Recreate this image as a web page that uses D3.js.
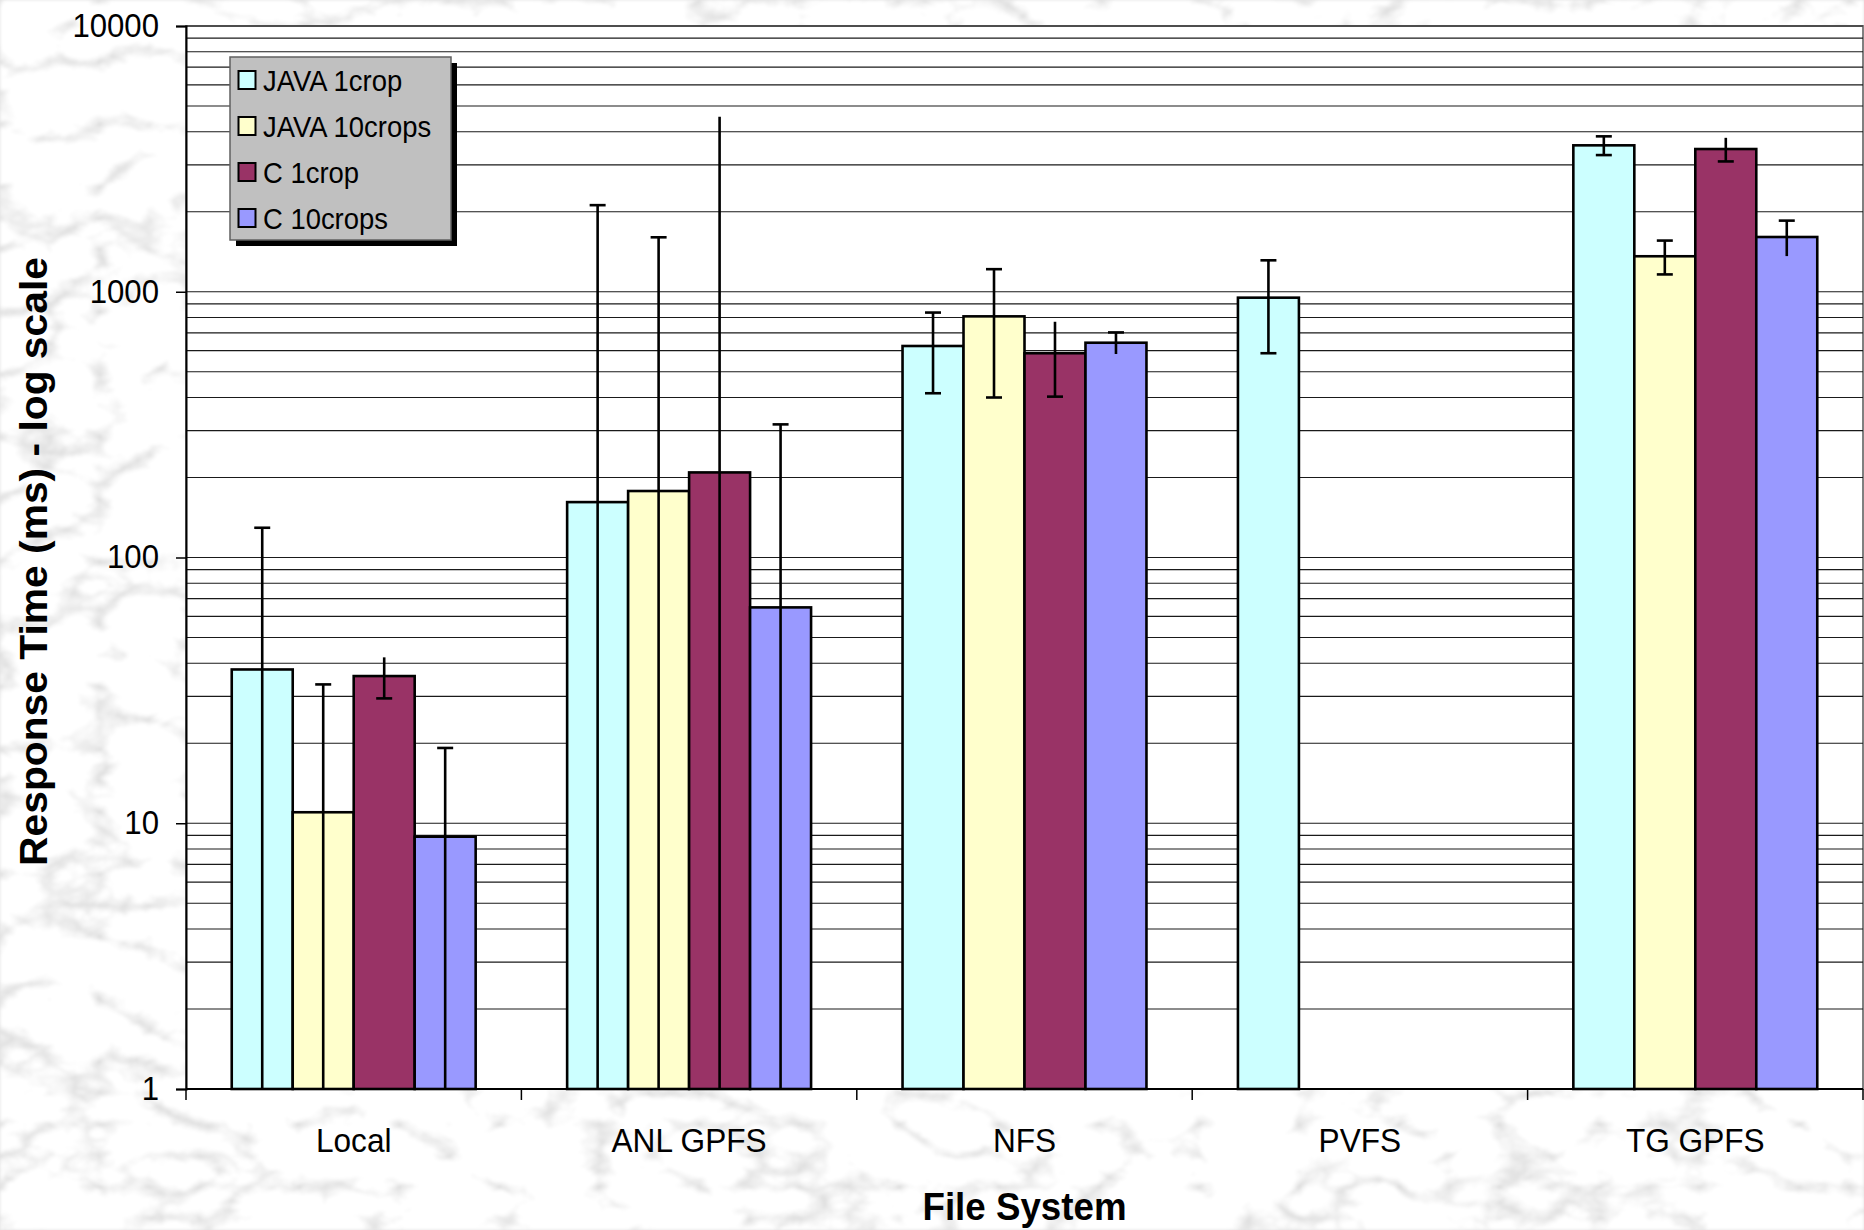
<!DOCTYPE html>
<html>
<head>
<meta charset="utf-8">
<script src="https://cdn.jsdelivr.net/npm/d3@7"></script>
<style>
  html, body { margin: 0; padding: 0; background: #e2e2e2; }
  svg { display: block; }
  text { font-family: "Liberation Sans", Arial, sans-serif; fill: #000; }
</style>
</head>
<body>
<svg id="chart" width="1864" height="1230"></svg>
<script>
// File systems on the x axis
const categories = ["Local", "ANL GPFS", "NFS", "PVFS", "TG GPFS"];
const seriesNames = ["JAVA 1crop", "JAVA 10crops", "C 1crop", "C 10crops"];

// Mean response time (ms) and the ± spread for each series
const java1crop      = [37.9, 161.6, 625, 950, 3556];
const java1cropErr   = [91.5, 1956, 210, 363, 288];
const java10crops    = [11.0, 177.9, 808, null, 1360];
const java10cropsErr = [22.3, 1425, 408, null, 198];
const c1crop         = [35.8, 209, 587, null, 3444];
const c1cropErr      = [6.3, 4350, 184, null, 351];
const c10crops       = [8.9, 64.9, 643, null, 1607];
const c10cropsErr    = [10.3, 252, 60, null, 245];

const yTickValues = [1, 10, 100, 1000, 10000];
const yTickLabels = ["1", "10", "100", "1000", "10000"];

const yTitle = "Response Time (ms) - log scale";
const xTitle = "File System";

// Appearance per series: fill colour and which error-bar ends get a cap
const seriesStyle = [
  { fill: "#CCFFFF", capTop: true,  capBottom: true },
  { fill: "#FFFFCC", capTop: true,  capBottom: true },
  { fill: "#993366", capTop: false, capBottom: true },
  { fill: "#9999FF", capTop: true,  capBottom: false }
];

const seriesValues = [java1crop, java10crops, c1crop, c10crops];
const seriesErrors = [java1cropErr, java10cropsErr, c1cropErr, c10cropsErr];

const W = 1864, H = 1230;
const plot = { left: 186, right: 1863, top: 26, bottom: 1089 };
const sx = 0.93; // horizontal squeeze of the lettering

const svg = d3.select("#chart");
const defs = svg.append("defs");

// Marble-like backdrop: soft grey veins on a pale ground
const f = defs.append("filter").attr("id", "marble")
  .attr("x", 0).attr("y", 0).attr("width", W).attr("height", H)
  .attr("filterUnits", "userSpaceOnUse");
f.append("feTurbulence").attr("type", "turbulence")
  .attr("baseFrequency", "0.010 0.016").attr("numOctaves", 5).attr("seed", 11)
  .attr("result", "noise");
f.append("feColorMatrix").attr("in", "noise").attr("type", "matrix")
  .attr("values", "1.1 0 0 0 0.70  1.1 0 0 0 0.70  1.1 0 0 0 0.70  0 0 0 0 1")
  .attr("result", "grey");
f.append("feGaussianBlur").attr("in", "grey").attr("stdDeviation", 1.6);

svg.append("rect").attr("width", W).attr("height", H).attr("fill", "#e0e0e0");
svg.append("rect").attr("width", W).attr("height", H).attr("filter", "url(#marble)");

// Scales
const x0 = d3.scaleBand().domain(categories).range([plot.left, plot.right]).padding(0);
const x1 = d3.scaleBand().domain(seriesNames).range([0, x0.bandwidth()])
  .paddingInner(0).paddingOuter(0.75);
const y = d3.scaleLog().domain([1, 10000]).range([plot.bottom, plot.top]);

// Plot area
svg.append("rect")
  .attr("x", plot.left).attr("y", plot.top)
  .attr("width", plot.right - plot.left).attr("height", plot.bottom - plot.top)
  .attr("fill", "#fff").attr("stroke", "#808080").attr("stroke-width", 2);

// Gridlines at every 1..9 step of each decade
const gridValues = [];
for (let d = 1; d < 10000; d *= 10) for (let k = 1; k <= 9; k++) gridValues.push(d * k);
gridValues.push(10000);
svg.append("g").selectAll("line").data(gridValues).join("line")
  .attr("x1", plot.left).attr("x2", plot.right)
  .attr("y1", d => y(d)).attr("y2", d => y(d))
  .attr("stroke", "#1a1a1a").attr("stroke-width", 1.2);

// Y axis with decade ticks
const yAxis = d3.axisLeft(y).tickValues(yTickValues)
  .tickFormat((d, i) => yTickLabels[i]).tickSize(10).tickPadding(16);
const yg = svg.append("g").attr("transform", `translate(${plot.left},0)`).call(yAxis);
yg.select(".domain").attr("stroke", "#000").attr("stroke-width", 2);
yg.selectAll(".tick line").attr("stroke", "#000").attr("stroke-width", 1.5);
yg.selectAll(".tick text")
  .attr("font-size", 33.5).attr("font-family", "Liberation Sans, Arial, sans-serif")
  .attr("fill", "#000").attr("x", null).attr("dy", null)
  .attr("dominant-baseline", "central")
  .attr("transform", `translate(-27,-1) scale(${sx},1)`);

// X axis: ticks at category boundaries
const xg = svg.append("g");
xg.append("line").attr("x1", plot.left).attr("x2", plot.right)
  .attr("y1", plot.bottom).attr("y2", plot.bottom)
  .attr("stroke", "#000").attr("stroke-width", 2);
const bounds = categories.map(c => x0(c)).concat([plot.right]);
xg.selectAll("line.tick").data(bounds).join("line").attr("class", "tick")
  .attr("x1", d => d).attr("x2", d => d)
  .attr("y1", plot.bottom).attr("y2", plot.bottom + 11)
  .attr("stroke", "#000").attr("stroke-width", 1.5);
xg.selectAll("text").data(categories).join("text")
  .attr("transform", d => `translate(${x0(d) + x0.bandwidth() / 2},1152) scale(${sx},1)`)
  .attr("text-anchor", "middle").attr("font-size", 34)
  .text(d => d);

// Bars
const barData = [];
categories.forEach((c, ci) => {
  seriesNames.forEach((s, si) => {
    const v = seriesValues[si][ci];
    if (v != null) barData.push({ c, s, si, v, e: seriesErrors[si][ci] });
  });
});

svg.append("g").selectAll("rect").data(barData).join("rect")
  .attr("x", d => x0(d.c) + x1(d.s))
  .attr("y", d => y(d.v))
  .attr("width", x1.bandwidth())
  .attr("height", d => plot.bottom - y(d.v))
  .attr("fill", d => seriesStyle[d.si].fill)
  .attr("stroke", "#000").attr("stroke-width", 2.6);

// Error bars (clipped to the axis range)
const [yMin, yMax] = y.domain();
const capHalf = 8;
const eg = svg.append("g").attr("stroke", "#000").attr("stroke-width", 2.6);
barData.forEach(d => {
  const cx = x0(d.c) + x1(d.s) + x1.bandwidth() / 2;
  const hi = d.v + d.e, lo = d.v - d.e;
  const hiC = Math.min(hi, yMax);
  const loClipped = lo < yMin;
  const yHi = y(hiC), yLo = loClipped ? plot.bottom : y(lo);
  eg.append("line").attr("x1", cx).attr("x2", cx).attr("y1", yHi).attr("y2", yLo);
  if (seriesStyle[d.si].capTop && hi <= yMax)
    eg.append("line").attr("x1", cx - capHalf).attr("x2", cx + capHalf).attr("y1", yHi).attr("y2", yHi);
  if (seriesStyle[d.si].capBottom && !loClipped)
    eg.append("line").attr("x1", cx - capHalf).attr("x2", cx + capHalf).attr("y1", yLo).attr("y2", yLo);
});

// Legend
const lg = svg.append("g").attr("transform", "translate(230,57)");
const lw = 221, lh = 183;
lg.append("rect").attr("x", 6).attr("y", 6).attr("width", lw).attr("height", lh).attr("fill", "#000");
lg.append("rect").attr("width", lw).attr("height", lh)
  .attr("fill", "#c0c0c0").attr("stroke", "#606060").attr("stroke-width", 1.5);
const items = lg.selectAll("g.item").data(seriesNames).join("g").attr("class", "item")
  .attr("transform", (d, i) => `translate(0,${23.5 + i * 46})`);
items.append("rect").attr("x", 8.5).attr("y", -9.5).attr("width", 17).attr("height", 18)
  .attr("fill", (d, i) => seriesStyle[i].fill).attr("stroke", "#000").attr("stroke-width", 2);
items.append("text")
  .attr("transform", `translate(33,10) scale(${sx},1)`)
  .attr("font-size", 29.5).text(d => d);

// Axis titles
svg.append("text")
  .attr("transform", `translate(${(plot.left + plot.right) / 2},1220) scale(${sx},1)`)
  .attr("text-anchor", "middle").attr("font-size", 39.5).attr("font-weight", "bold")
  .text(xTitle);
svg.append("text")
  .attr("transform", `translate(47,${(plot.top + plot.bottom) / 2 + 4}) scale(${sx},1) rotate(-90)`)
  .attr("text-anchor", "middle").attr("font-size", 40.8).attr("font-weight", "bold")
  .text(yTitle);
</script>
</body>
</html>
